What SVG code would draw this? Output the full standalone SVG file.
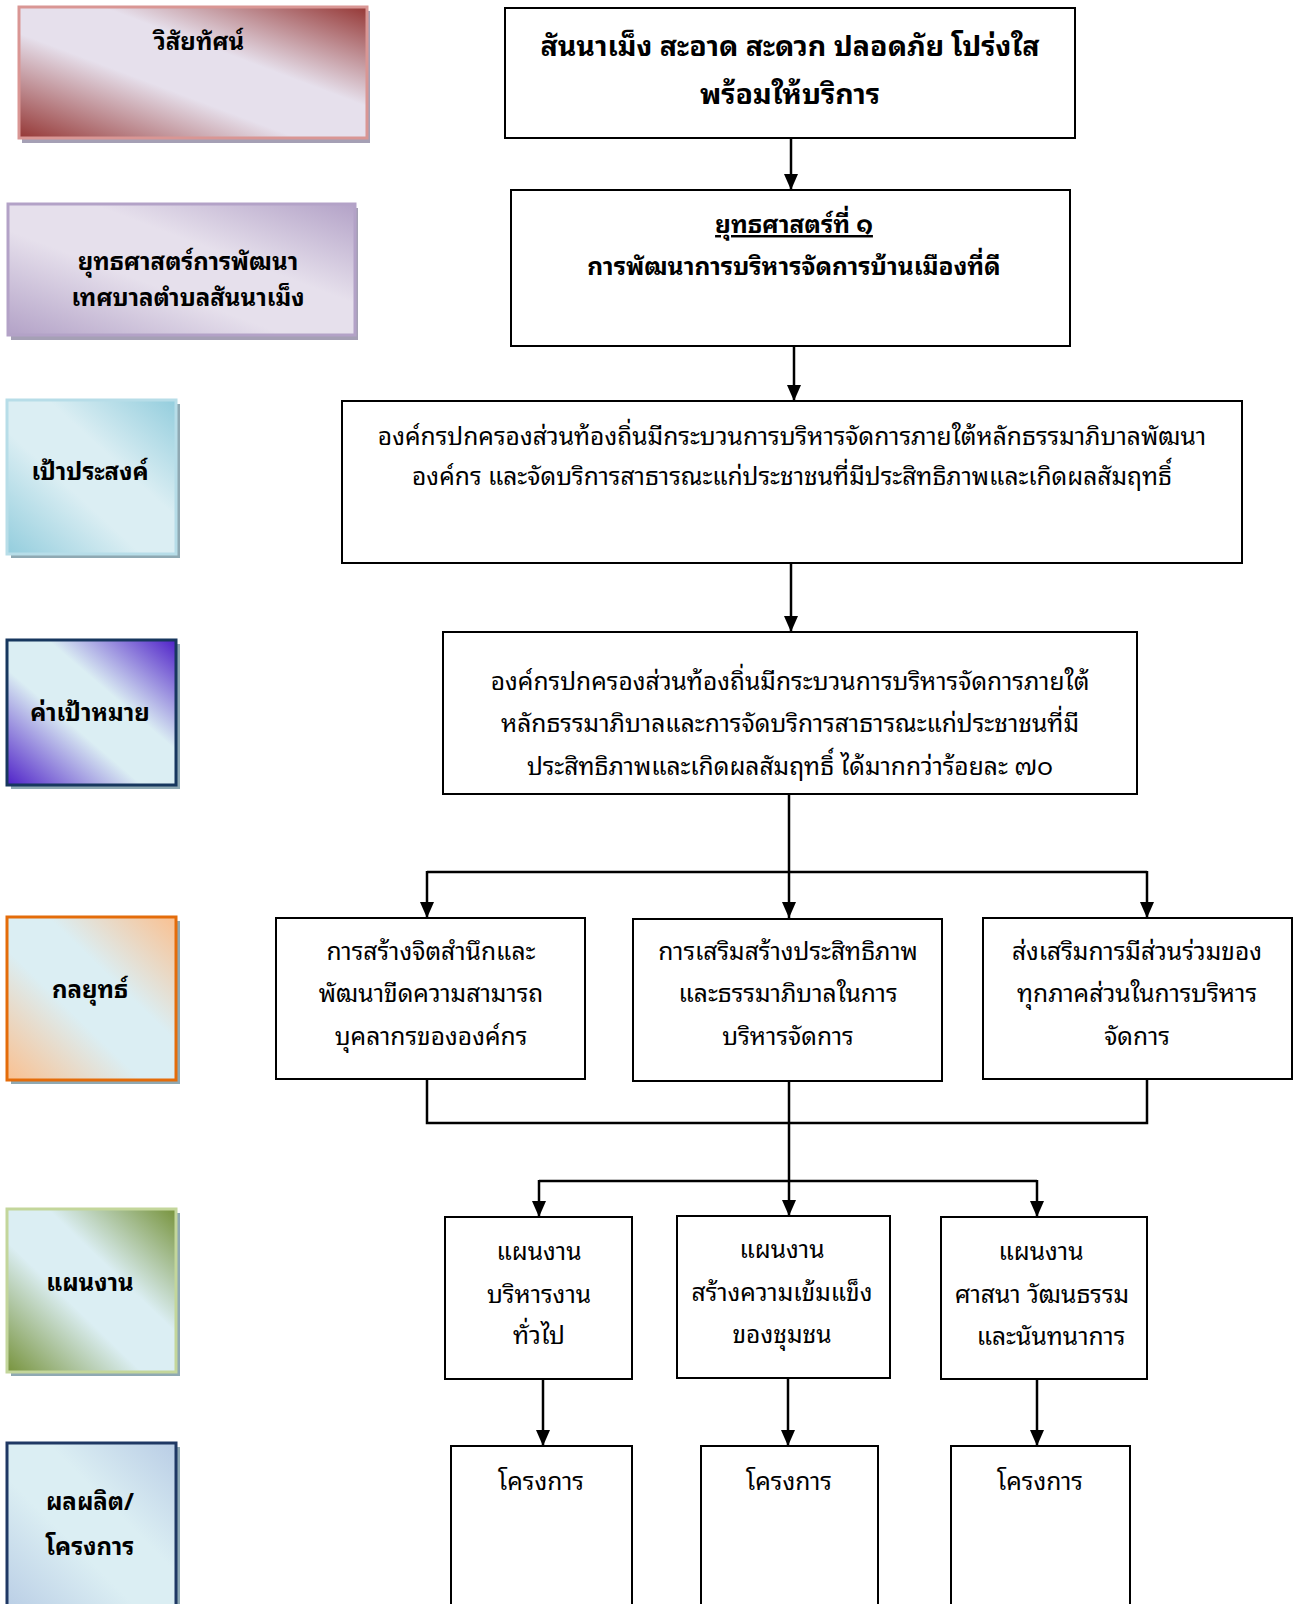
<svg xmlns="http://www.w3.org/2000/svg" width="1297" height="1604" viewBox="0 0 1297 1604">
<defs>
<style>
.t{font-family:"Noto Sans Thai Looped","Noto Looped Thai","Loma","Waree","Garuda","Norasi","Noto Sans Thai","Noto Sans","DejaVu Sans",sans-serif;fill:#000;text-anchor:middle}
.lab{font-size:24px;font-weight:bold}
.big{font-size:28.5px;font-weight:bold}
.mid{font-size:24.5px;font-weight:bold}
.n{font-size:24.6px}
.box{fill:#fff;stroke:#000;stroke-width:2}
.c{stroke:#000;stroke-width:2.5;fill:none}
</style>
<marker id="ah" viewBox="0 0 16 14" refX="16" refY="7" markerWidth="16" markerHeight="14" orient="auto" markerUnits="userSpaceOnUse"><path d="M0,0 L16,7 L0,14 z" fill="#000"/></marker>
<linearGradient id="g1" x1="0" y1="1" x2="1" y2="0"><stop offset="0" stop-color="#953735"/><stop offset="0.4" stop-color="#e6e0ec"/><stop offset="0.62" stop-color="#e6e0ec"/><stop offset="1" stop-color="#953735"/></linearGradient>
<linearGradient id="g2" x1="0" y1="1" x2="1" y2="0"><stop offset="0" stop-color="#b3a2c7"/><stop offset="0.4" stop-color="#e6e0ec"/><stop offset="0.62" stop-color="#e6e0ec"/><stop offset="1" stop-color="#b3a2c7"/></linearGradient>
<linearGradient id="g3" x1="0" y1="1" x2="1" y2="0"><stop offset="0" stop-color="#93cddd"/><stop offset="0.4" stop-color="#dbeef3"/><stop offset="0.62" stop-color="#dbeef3"/><stop offset="1" stop-color="#93cddd"/></linearGradient>
<linearGradient id="g4" x1="0" y1="1" x2="1" y2="0"><stop offset="0" stop-color="#4f21c8"/><stop offset="0.4" stop-color="#dbeef3"/><stop offset="0.62" stop-color="#dbeef3"/><stop offset="1" stop-color="#4f21c8"/></linearGradient>
<linearGradient id="g5" x1="0" y1="1" x2="1" y2="0"><stop offset="0" stop-color="#fac090"/><stop offset="0.4" stop-color="#dbeef3"/><stop offset="0.62" stop-color="#dbeef3"/><stop offset="1" stop-color="#fac090"/></linearGradient>
<linearGradient id="g6" x1="0" y1="1" x2="1" y2="0"><stop offset="0" stop-color="#77933c"/><stop offset="0.4" stop-color="#dbeef3"/><stop offset="0.62" stop-color="#dbeef3"/><stop offset="1" stop-color="#77933c"/></linearGradient>
<linearGradient id="g7" x1="0" y1="1" x2="1" y2="0"><stop offset="0" stop-color="#b9cde5"/><stop offset="0.4" stop-color="#dbeef3"/><stop offset="0.62" stop-color="#dbeef3"/><stop offset="1" stop-color="#b9cde5"/></linearGradient>
</defs>
<rect width="1297" height="1604" fill="#fff"/>

<g id="label-vision">
<rect x="22" y="11" width="348" height="132" fill="#a5a0b5"/>
<rect x="19" y="7" width="348" height="131" fill="url(#g1)" stroke="#d99694" stroke-width="3"/>
<text class="t lab" x="199" y="50">วิสัยทัศน์</text>
</g>
<g id="label-strategy">
<rect x="11" y="208" width="347" height="132" fill="#a5a0b5"/>
<rect x="8" y="204" width="347" height="131" fill="url(#g2)" stroke="#b3a2c7" stroke-width="3"/>
<text class="t lab" x="188" y="270">ยุทธศาสตร์การพัฒนา</text>
<text class="t lab" x="188" y="306">เทศบาลตำบลสันนาเม็ง</text>
</g>
<g id="label-goal">
<rect x="11" y="404" width="169" height="154" fill="#8fa9b3"/>
<rect x="7" y="400" width="169" height="154" fill="url(#g3)" stroke="#b7dde8" stroke-width="3"/>
<text class="t lab" x="90" y="480">เป้าประสงค์</text>
</g>
<g id="label-target">
<rect x="11" y="644" width="169" height="145" fill="#8fa9b3"/>
<rect x="7" y="640" width="169" height="145" fill="url(#g4)" stroke="#17375e" stroke-width="3"/>
<text class="t lab" x="90" y="721">ค่าเป้าหมาย</text>
</g>
<g id="label-tactic">
<rect x="11" y="921" width="169" height="163" fill="#8fa9b3"/>
<rect x="7" y="917" width="169" height="163" fill="url(#g5)" stroke="#e46c0a" stroke-width="3"/>
<text class="t lab" x="90" y="998">กลยุทธ์</text>
</g>
<g id="label-plan">
<rect x="11" y="1213" width="169" height="163" fill="#8fa9b3"/>
<rect x="7" y="1209" width="169" height="163" fill="url(#g6)" stroke="#c3d69b" stroke-width="3"/>
<text class="t lab" x="90" y="1291">แผนงาน</text>
</g>
<g id="label-output">
<rect x="11" y="1447" width="169" height="170" fill="#8fa9b3"/>
<rect x="7" y="1443" width="169" height="170" fill="url(#g7)" stroke="#1f3864" stroke-width="3"/>
<text class="t lab" x="90" y="1510">ผลผลิต/</text>
<text class="t lab" x="90" y="1555">โครงการ</text>
</g>

<g id="connectors">
<line class="c" x1="791" y1="138" x2="791" y2="190" marker-end="url(#ah)"/>
<line class="c" x1="794" y1="346" x2="794" y2="401" marker-end="url(#ah)"/>
<line class="c" x1="791" y1="563" x2="791" y2="632" marker-end="url(#ah)"/>
<line class="c" x1="789" y1="794" x2="789" y2="918" marker-end="url(#ah)"/>
<line class="c" x1="427" y1="872" x2="1147" y2="872"/>
<line class="c" x1="427" y1="871" x2="427" y2="918" marker-end="url(#ah)"/>
<line class="c" x1="1147" y1="871" x2="1147" y2="918" marker-end="url(#ah)"/>
<path class="c" d="M427,1079 V1123 H1147 V1079"/>
<line class="c" x1="789" y1="1081" x2="789" y2="1216" marker-end="url(#ah)"/>
<line class="c" x1="539" y1="1181" x2="1037" y2="1181"/>
<line class="c" x1="539" y1="1180" x2="539" y2="1217" marker-end="url(#ah)"/>
<line class="c" x1="1037" y1="1180" x2="1037" y2="1217" marker-end="url(#ah)"/>
<line class="c" x1="543" y1="1379" x2="543" y2="1446" marker-end="url(#ah)"/>
<line class="c" x1="788" y1="1378" x2="788" y2="1446" marker-end="url(#ah)"/>
<line class="c" x1="1037" y1="1379" x2="1037" y2="1446" marker-end="url(#ah)"/>
</g>

<g id="vision">
<rect class="box" x="505" y="8" width="570" height="130"/>
<text class="t big" x="790" y="56">สันนาเม็ง สะอาด สะดวก ปลอดภัย โปร่งใส</text>
<text class="t big" x="790" y="104">พร้อมให้บริการ</text>
</g>
<g id="strategy1">
<rect class="box" x="511" y="190" width="559" height="156"/>
<text class="t mid" x="794" y="233" text-decoration="underline">ยุทธศาสตร์ที่ ๑</text>
<text class="t mid" x="794" y="275">การพัฒนาการบริหารจัดการบ้านเมืองที่ดี</text>
</g>
<g id="goal">
<rect class="box" x="342" y="401" width="900" height="162"/>
<text class="t n" x="792" y="445">องค์กรปกครองส่วนท้องถิ่นมีกระบวนการบริหารจัดการภายใต้หลักธรรมาภิบาลพัฒนา</text>
<text class="t n" x="792" y="485">องค์กร และจัดบริการสาธารณะแก่ประชาชนที่มีประสิทธิภาพและเกิดผลสัมฤทธิ์</text>
</g>
<g id="target">
<rect class="box" x="443" y="632" width="694" height="162"/>
<text class="t n" x="790" y="690">องค์กรปกครองส่วนท้องถิ่นมีกระบวนการบริหารจัดการภายใต้</text>
<text class="t n" x="790" y="732">หลักธรรมาภิบาลและการจัดบริการสาธารณะแก่ประชาชนที่มี</text>
<text class="t n" x="790" y="775">ประสิทธิภาพและเกิดผลสัมฤทธิ์ ได้มากกว่าร้อยละ ๗๐</text>
</g>
<g id="tactic1">
<rect class="box" x="276" y="918" width="309" height="161"/>
<text class="t n" x="431" y="960">การสร้างจิตสำนึกและ</text>
<text class="t n" x="431" y="1002">พัฒนาขีดความสามารถ</text>
<text class="t n" x="431" y="1045">บุคลากรขององค์กร</text>
</g>
<g id="tactic2">
<rect class="box" x="633" y="919" width="309" height="162"/>
<text class="t n" x="788" y="960">การเสริมสร้างประสิทธิภาพ</text>
<text class="t n" x="788" y="1002">และธรรมาภิบาลในการ</text>
<text class="t n" x="788" y="1045">บริหารจัดการ</text>
</g>
<g id="tactic3">
<rect class="box" x="983" y="918" width="309" height="161"/>
<text class="t n" x="1137" y="960">ส่งเสริมการมีส่วนร่วมของ</text>
<text class="t n" x="1137" y="1002">ทุกภาคส่วนในการบริหาร</text>
<text class="t n" x="1137" y="1045">จัดการ</text>
</g>
<g id="plan1">
<rect class="box" x="445" y="1217" width="187" height="162"/>
<text class="t n" x="539" y="1260">แผนงาน</text>
<text class="t n" x="539" y="1303">บริหารงาน</text>
<text class="t n" x="539" y="1344">ทั่วไป</text>
</g>
<g id="plan2">
<rect class="box" x="677" y="1216" width="213" height="162"/>
<text class="t n" x="782" y="1258">แผนงาน</text>
<text class="t n" x="782" y="1301">สร้างความเข้มแข็ง</text>
<text class="t n" x="782" y="1343">ของชุมชน</text>
</g>
<g id="plan3">
<rect class="box" x="941" y="1217" width="206" height="162"/>
<text class="t n" x="1041" y="1260">แผนงาน</text>
<text class="t n" x="1042" y="1303">ศาสนา วัฒนธรรม</text>
<text class="t n" x="1051" y="1345">และนันทนาการ</text>
</g>
<g id="project1">
<rect class="box" x="451" y="1446" width="181" height="170"/>
<text class="t n" x="541" y="1490">โครงการ</text>
</g>
<g id="project2">
<rect class="box" x="701" y="1446" width="177" height="170"/>
<text class="t n" x="789" y="1490">โครงการ</text>
</g>
<g id="project3">
<rect class="box" x="951" y="1446" width="179" height="170"/>
<text class="t n" x="1040" y="1490">โครงการ</text>
</g>
</svg>
